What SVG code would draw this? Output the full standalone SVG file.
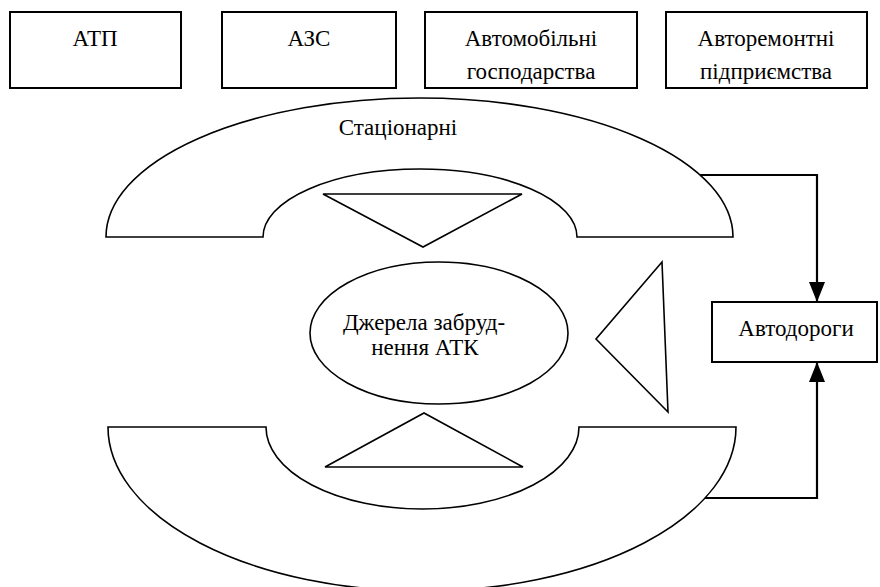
<svg xmlns="http://www.w3.org/2000/svg" width="880" height="587" viewBox="0 0 880 587">
  <style>
    .box { fill: #fff; stroke: #000; stroke-width: 2; }
    .shape { fill: #fff; stroke: #000; stroke-width: 1.6; stroke-linejoin: miter; }
    .conn { fill: none; stroke: #000; stroke-width: 2.2; }
    .lbl { font-size: 23px; fill: #000; text-anchor: middle; }
  </style>
  <defs>
    <marker id="arrow" viewBox="0 0 20 16" refX="20" refY="8" markerWidth="20" markerHeight="16" markerUnits="userSpaceOnUse" orient="auto">
      <path d="M0,0 L20,8 L0,16 Z" fill="#000"/>
    </marker>
  </defs>

  <g font-family="Liberation Serif, Times New Roman, Noto Serif, DejaVu Serif, serif">
  <!-- top row of sources -->
  <g id="atp">
    <rect class="box" x="10" y="12" width="171" height="76"/>
    <text class="lbl" x="95" y="46">АТП</text>
  </g>
  <g id="azs">
    <rect class="box" x="222" y="12" width="174" height="76"/>
    <text class="lbl" x="309" y="46">АЗС</text>
  </g>
  <g id="avtohospodarstva">
    <rect class="box" x="425" y="12" width="212" height="76"/>
    <text class="lbl" x="531" y="46">Автомобільні</text>
    <text class="lbl" x="531" y="79">господарства</text>
  </g>
  <g id="avtoremont">
    <rect class="box" x="666" y="12" width="201" height="76"/>
    <text class="lbl" x="766" y="46">Авторемонтні</text>
    <text class="lbl" x="766" y="79">підприємства</text>
  </g>

  <!-- connectors -->
  <g id="connectors">
    <path class="conn" d="M700,175 H817 V302" marker-end="url(#arrow)"/>
    <path class="conn" d="M705,498 H817 V362" marker-end="url(#arrow)"/>
  </g>

  <!-- upper arc band: stationary sources -->
  <g id="stationary">
    <path class="shape" d="M106,237 A313.5,139 0 0 1 733,237 H577 A157,68 0 0 0 263,237 Z"/>
    <text class="lbl" x="398" y="135">Стаціонарні</text>
  </g>

  <!-- lower arc band -->
  <g id="mobile">
    <path class="shape" d="M108,427 A314,164 0 0 0 736,427 H579 A156.5,82 0 0 1 266,427 Z"/>
  </g>

  <!-- pointers toward the centre -->
  <g id="tri-top">
    <polygon class="shape" points="323,194 522,194 423,247"/>
  </g>
  <g id="tri-bottom">
    <polygon class="shape" points="325,467 523,467 424,413"/>
  </g>
  <g id="tri-right">
    <polygon class="shape" points="662,262 596,339 668,412"/>
  </g>

  <!-- centre -->
  <g id="sources">
    <ellipse class="shape" cx="439" cy="333" rx="129" ry="71"/>
    <text class="lbl" x="424" y="330">Джерела забруд-</text>
    <text class="lbl" x="425" y="355">нення АТК</text>
  </g>

  <!-- roads -->
  <g id="roads">
    <rect class="box" x="712" y="302" width="165" height="60"/>
    <text class="lbl" x="796" y="336">Автодороги</text>
  </g>
  </g>
</svg>
